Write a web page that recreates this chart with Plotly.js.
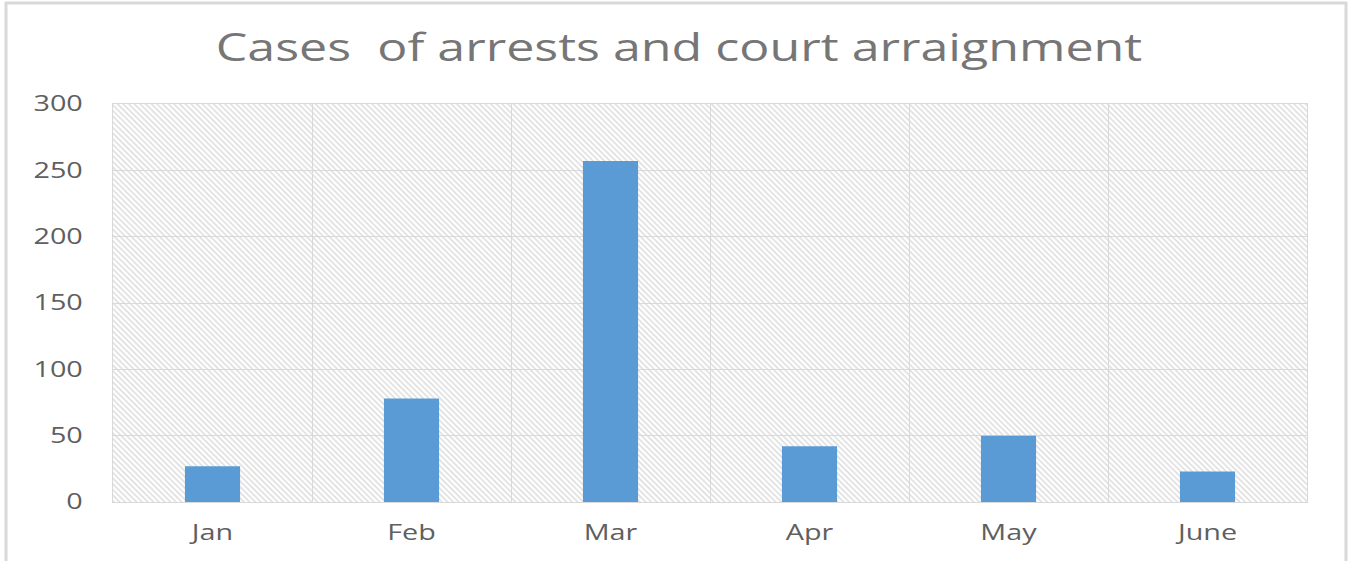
<!DOCTYPE html>
<html>
<head>
<meta charset="utf-8">
<script src="https://cdn.plot.ly/plotly-3.0.1.min.js"></script>
<style>
  html, body { margin: 0; padding: 0; background: #fff; }
  #chart { width: 1348px; height: 561px; }
  #chart .gtitle { transform-box: fill-box; transform-origin: center; transform: scaleX(1.32); }
</style>
</head>
<body>
<div id="chart"></div>
<script>
const months = ["Jan", "Feb", "Mar", "Apr", "May", "June"];
const cases = [27, 78, 257, 42, 50, 23];
const yTicks = [0, 50, 100, 150, 200, 250, 300];
const chartTitle = "Cases \u00a0of arrests and court arraignment";

const hatch = 'data:image/svg+xml;utf8,' + encodeURIComponent(
  '<svg xmlns="http://www.w3.org/2000/svg" width="1194" height="398">' +
  '<defs><pattern id="p" width="4" height="4" patternUnits="userSpaceOnUse" patternTransform="rotate(45)">' +
  '<rect width="4" height="4" fill="#ffffff"/><rect x="0" y="0" width="4" height="1.5" fill="#dcdcdc"/></pattern></defs>' +
  '<rect width="1194" height="398" fill="url(#p)"/></svg>');

const trace = {
  type: "bar",
  x: months,
  y: cases,
  width: 0.277,
  marker: { color: "#5B9BD5" },
  hoverinfo: "x+y"
};

const layout = {
  width: 1348, height: 561,
  margin: { l: 113, r: 41, t: 104, b: 59 },
  paper_bgcolor: "#ffffff",
  plot_bgcolor: "rgba(0,0,0,0)",
  showlegend: false,
  font: { family: "Open Sans, sans-serif", color: "#595959" },
  title: {
    text: chartTitle,
    font: { family: "Open Sans, sans-serif", size: 38, color: "#767676" },
    x: 679 / 1348, xanchor: "center", xref: "container",
    y: 0.915, yanchor: "middle"
  },
  xaxis: {
    type: "category",
    tickson: "boundaries",
    showgrid: true, gridcolor: "#d9d9d9", gridwidth: 1,
    showline: true, linecolor: "#d9d9d9", linewidth: 1, mirror: true,
    ticks: "", ticklabelstandoff: 12,
    tickfont: { size: 21, color: "#5f5f5f" },
    zeroline: false, fixedrange: true
  },
  yaxis: {
    range: [0, 300],
    tickvals: yTicks,
    showgrid: true, gridcolor: "#d9d9d9", gridwidth: 1,
    showline: true, linecolor: "#d9d9d9", linewidth: 1, mirror: true,
    ticks: "", ticklabelstandoff: 25,
    tickfont: { size: 21, color: "#5f5f5f" },
    zeroline: false, fixedrange: true
  },
  images: [{
    source: hatch,
    xref: "paper", yref: "paper",
    x: 0, y: 1, sizex: 1, sizey: 1,
    xanchor: "left", yanchor: "top",
    sizing: "stretch", layer: "below"
  }],
  shapes: [{
    type: "rect", xref: "paper", yref: "paper",
    x0: -107 / 1194, x1: 1233 / 1194,
    y0: -70 / 398, y1: 1 + 101 / 398,
    line: { color: "#d9d9d9", width: 3 },
    fillcolor: "rgba(0,0,0,0)",
    layer: "below"
  }]
};

function stretchLabels() {
  const s = 1.37;
  document.querySelectorAll('#chart .xtick text, #chart .ytick text').forEach(t => {
    if (t.dataset.stretched) return;
    const tr = t.getAttribute('transform') || '';
    const x = parseFloat(t.getAttribute('x')) || 0;
    t.setAttribute('transform', tr + ' translate(' + x + ',0) scale(' + s + ',1) translate(' + (-x) + ',0)');
    t.dataset.stretched = '1';
  });
}

Plotly.newPlot("chart", [trace], layout, { displayModeBar: false, staticPlot: true }).then(stretchLabels);
</script>
</body>
</html>
